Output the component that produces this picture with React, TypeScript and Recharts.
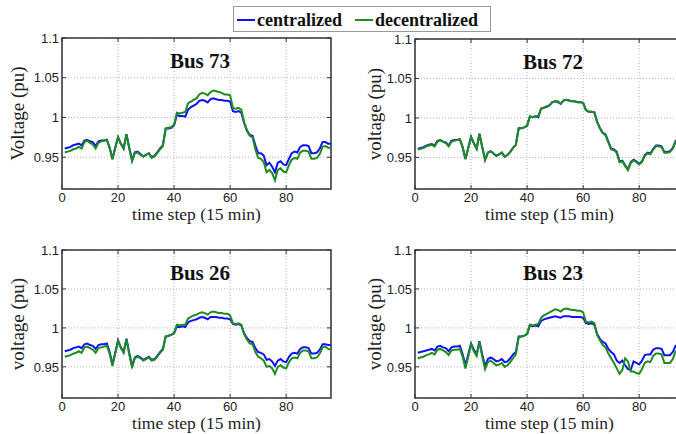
import React from 'react';
import { LineChart, Line, XAxis, YAxis, CartesianGrid, ReferenceArea } from 'recharts';

const steps = Array.from({ length: 96 }, (_, i) => i + 1);
const xTicks = [0, 20, 40, 60, 80];
const yTicks = [0.95, 1, 1.05, 1.1];
const seriesNames = ['centralized', 'decentralized'];
const xLabel = 'time step (15 min)';

const bus73Central = [
  0.961, 0.962, 0.963, 0.965, 0.966, 0.967, 0.965, 0.971, 0.972, 0.970, 0.969, 0.964, 0.970, 0.971, 0.971, 0.972,
  0.962, 0.948, 0.962, 0.975, 0.967, 0.961, 0.979, 0.962, 0.946, 0.956, 0.957, 0.954, 0.951, 0.953, 0.955, 0.950, 0.952, 0.956, 0.961, 0.965,
  0.986, 0.986, 0.987, 0.990,
  1.003, 1.002, 1.002, 1.001,
  1.010, 1.013, 1.015, 1.017,
  1.021, 1.022, 1.021, 1.019, 1.023, 1.024, 1.023, 1.022, 1.022, 1.021, 1.021, 1.020,
  1.008, 1.007, 1.008, 1.006,
  0.993, 0.984, 0.978, 0.977, 0.965, 0.955, 0.955, 0.952,
  0.940, 0.943, 0.938, 0.931, 0.943, 0.945, 0.941, 0.940,
  0.948, 0.955, 0.957, 0.956, 0.963, 0.965, 0.965, 0.964,
  0.955, 0.955, 0.956, 0.961, 0.969, 0.969, 0.967, 0.967,
];
const bus73Decentral = [
  0.956, 0.957, 0.958, 0.960, 0.961, 0.963, 0.961, 0.969, 0.971, 0.968, 0.966, 0.961, 0.968, 0.970, 0.971, 0.972,
  0.962, 0.947, 0.962, 0.975, 0.967, 0.961, 0.979, 0.961, 0.945, 0.955, 0.956, 0.953, 0.951, 0.953, 0.955, 0.949, 0.951, 0.955, 0.960, 0.964,
  0.986, 0.987, 0.988, 0.991,
  1.006, 1.005, 1.006, 1.007,
  1.018, 1.020, 1.022, 1.024,
  1.029, 1.031, 1.030, 1.028, 1.032, 1.034, 1.033, 1.032, 1.031, 1.029, 1.029, 1.028,
  1.012, 1.011, 1.012, 1.010,
  0.994, 0.983, 0.977, 0.975, 0.960, 0.949, 0.948, 0.944,
  0.931, 0.934, 0.930, 0.921, 0.934, 0.936, 0.932, 0.931,
  0.940, 0.947, 0.949, 0.948, 0.956, 0.958, 0.958, 0.957,
  0.948, 0.948, 0.949, 0.954, 0.963, 0.964, 0.962, 0.962,
];

const bus72Central = [
  0.961, 0.962, 0.963, 0.965, 0.966, 0.967, 0.965, 0.971, 0.972, 0.970, 0.969, 0.965, 0.971, 0.972, 0.972, 0.973,
  0.963, 0.948, 0.962, 0.976, 0.968, 0.961, 0.980, 0.963, 0.947, 0.956, 0.958, 0.955, 0.952, 0.954, 0.956, 0.951, 0.953, 0.957, 0.962, 0.966,
  0.987, 0.987, 0.988, 0.990,
  1.002, 1.001, 1.002, 1.001,
  1.012, 1.013, 1.014, 1.016,
  1.020, 1.021, 1.020, 1.018, 1.022, 1.023, 1.022, 1.021, 1.021, 1.020, 1.020, 1.019,
  1.010, 1.008, 1.008, 1.007,
  0.995, 0.987, 0.981, 0.979, 0.970, 0.961, 0.960, 0.957,
  0.945, 0.946, 0.940, 0.935, 0.944, 0.947, 0.945, 0.942,
  0.945, 0.953, 0.956, 0.955, 0.961, 0.965, 0.965, 0.964,
  0.957, 0.957, 0.958, 0.962, 0.971, 0.970, 0.969, 0.970,
];
const bus72Decentral = [
  0.960, 0.961, 0.962, 0.964, 0.965, 0.966, 0.964, 0.970, 0.972, 0.970, 0.968, 0.964, 0.970, 0.971, 0.972, 0.973,
  0.963, 0.948, 0.962, 0.976, 0.968, 0.961, 0.980, 0.963, 0.947, 0.956, 0.958, 0.955, 0.952, 0.954, 0.956, 0.951, 0.953, 0.957, 0.962, 0.966,
  0.987, 0.987, 0.988, 0.990,
  1.002, 1.001, 1.002, 1.002,
  1.012, 1.013, 1.015, 1.016,
  1.020, 1.021, 1.021, 1.018, 1.022, 1.023, 1.022, 1.021, 1.021, 1.020, 1.020, 1.019,
  1.010, 1.008, 1.008, 1.007,
  0.995, 0.987, 0.981, 0.978, 0.969, 0.960, 0.959, 0.956,
  0.944, 0.945, 0.939, 0.934, 0.943, 0.946, 0.944, 0.941,
  0.944, 0.952, 0.955, 0.954, 0.960, 0.964, 0.964, 0.963,
  0.956, 0.956, 0.957, 0.961, 0.970, 0.970, 0.968, 0.969,
];

const bus26Central = [
  0.970, 0.971, 0.972, 0.974, 0.975, 0.976, 0.974, 0.979, 0.980, 0.978, 0.977, 0.973, 0.978, 0.979, 0.979, 0.980,
  0.969, 0.953, 0.968, 0.984, 0.975, 0.969, 0.986, 0.968, 0.951, 0.962, 0.964, 0.962, 0.959, 0.961, 0.963, 0.959, 0.960, 0.964, 0.969, 0.973,
  0.989, 0.990, 0.991, 0.993,
  1.002, 1.001, 1.002, 1.001,
  1.007, 1.009, 1.010, 1.011,
  1.013, 1.014, 1.013, 1.011, 1.014, 1.014, 1.014, 1.013, 1.013, 1.012, 1.012, 1.011,
  1.005, 1.004, 1.005, 1.003,
  0.993, 0.987, 0.983, 0.982, 0.974, 0.969, 0.968, 0.966,
  0.959, 0.960, 0.957, 0.951, 0.958, 0.960, 0.957, 0.956,
  0.963, 0.967, 0.968, 0.967, 0.973, 0.975, 0.975, 0.974,
  0.967, 0.967, 0.968, 0.972, 0.979, 0.979, 0.978, 0.978,
];
const bus26Decentral = [
  0.963, 0.964, 0.965, 0.967, 0.968, 0.970, 0.968, 0.975, 0.976, 0.974, 0.972, 0.968, 0.974, 0.975, 0.976, 0.977,
  0.967, 0.951, 0.967, 0.983, 0.974, 0.968, 0.985, 0.966, 0.949, 0.961, 0.963, 0.961, 0.958, 0.960, 0.962, 0.958, 0.959, 0.963, 0.968, 0.972,
  0.989, 0.990, 0.991, 0.994,
  1.004, 1.003, 1.004, 1.004,
  1.012, 1.014, 1.016, 1.017,
  1.019, 1.020, 1.019, 1.017, 1.020, 1.021, 1.020, 1.019, 1.019, 1.018, 1.018, 1.016,
  1.006, 1.005, 1.006, 1.004,
  0.992, 0.985, 0.980, 0.979, 0.969, 0.963, 0.961, 0.958,
  0.950, 0.951, 0.948, 0.941, 0.950, 0.952, 0.949, 0.948,
  0.956, 0.961, 0.962, 0.961, 0.968, 0.971, 0.971, 0.970,
  0.961, 0.961, 0.962, 0.967, 0.975, 0.976, 0.973, 0.972,
];

const bus23Central = [
  0.968, 0.969, 0.970, 0.971, 0.972, 0.973, 0.971, 0.976, 0.977, 0.975, 0.974, 0.970, 0.975, 0.976, 0.976, 0.977,
  0.966, 0.952, 0.966, 0.980, 0.972, 0.966, 0.983, 0.966, 0.951, 0.960, 0.962, 0.960, 0.957, 0.958, 0.960, 0.956, 0.957, 0.961, 0.966, 0.969,
  0.989, 0.989, 0.990, 0.992,
  1.003, 1.002, 1.003, 1.002,
  1.009, 1.011, 1.012, 1.013,
  1.014, 1.015, 1.014, 1.013, 1.015, 1.015, 1.015, 1.014, 1.014, 1.014, 1.014, 1.013,
  1.006, 1.005, 1.006, 1.004,
  0.992, 0.986, 0.982, 0.980, 0.973, 0.969, 0.966, 0.958,
  0.955, 0.958, 0.952, 0.947, 0.946, 0.957, 0.955, 0.953,
  0.958, 0.965, 0.966, 0.966, 0.972, 0.974, 0.974, 0.973,
  0.965, 0.965, 0.965, 0.969, 0.977, 0.977, 0.976, 0.976,
];
const bus23Decentral = [
  0.961, 0.962, 0.963, 0.965, 0.966, 0.968, 0.966, 0.972, 0.973, 0.971, 0.969, 0.965, 0.971, 0.972, 0.972, 0.973,
  0.963, 0.948, 0.963, 0.979, 0.970, 0.964, 0.982, 0.963, 0.947, 0.956, 0.958, 0.955, 0.952, 0.953, 0.955, 0.950, 0.952, 0.956, 0.961, 0.966,
  0.988, 0.989, 0.990, 0.992,
  1.004, 1.003, 1.004, 1.005,
  1.013, 1.016, 1.018, 1.020,
  1.022, 1.024, 1.023, 1.021, 1.024, 1.025, 1.024, 1.023, 1.023, 1.022, 1.022, 1.020,
  1.008, 1.007, 1.008, 1.006,
  0.991, 0.984, 0.978, 0.975, 0.967, 0.961, 0.955, 0.948,
  0.941, 0.946, 0.961, 0.957, 0.944, 0.944, 0.942, 0.941,
  0.947, 0.955, 0.957, 0.956, 0.964, 0.967, 0.967, 0.966,
  0.955, 0.955, 0.955, 0.960, 0.970, 0.972, 0.970, 0.970,
];

const SERIF = "'Liberation Serif', 'Times New Roman', Times, serif";
const SANS = "'Liberation Sans', Arial, Helvetica, sans-serif";
const BLUE = '#1212f8';
const GREEN = '#1f8c1f';

const build = (c: number[], d: number[]) => steps.map((t, i) => ({ t, c: c[i], d: d[i] }));

type PanelProps = {
  left: number; top: number; width: number; height: number;
  mTop: number; mRight: number; yW: number; xH: number;
  title: string; ylabel: string; c: number[]; d: number[];
};

const panels: PanelProps[] = [
  { left: 0, top: 0, width: 338, height: 230, mTop: 38, mRight: 7, yW: 62, xH: 41, title: 'Bus 73', ylabel: 'Voltage (pu)', c: bus73Central, d: bus73Decentral },
  { left: 338, top: 0, width: 350, height: 230, mTop: 39, mRight: 4, yW: 77, xH: 41, title: 'Bus 72', ylabel: 'voltage (pu)', c: bus72Central, d: bus72Decentral },
  { left: 0, top: 212, width: 338, height: 222, mTop: 38, mRight: 7, yW: 62, xH: 36, title: 'Bus 26', ylabel: 'voltage (pu)', c: bus26Central, d: bus26Decentral },
  { left: 338, top: 212, width: 350, height: 222, mTop: 38, mRight: 4, yW: 77, xH: 36, title: 'Bus 23', ylabel: 'voltage (pu)', c: bus23Central, d: bus23Decentral },
];

function Panel(p: PanelProps) {
  const plotH = p.height - p.mTop - p.xH;
  const plotW = p.width - p.yW - p.mRight;
  const data = build(p.c, p.d);
  const XTick = (props: any) => {
    const { x, y, payload } = props;
    return (
      <g>
        <line x1={x} x2={x} y1={y} y2={y - 4} stroke="#333" />
        <line x1={x} x2={x} y1={y - plotH} y2={y - plotH + 4} stroke="#333" />
        <text x={x} y={y + 13} textAnchor="middle" fontFamily={SANS} fontSize={13} fill="#222">{payload.value}</text>
      </g>
    );
  };
  const YTick = (props: any) => {
    const { x, y, payload } = props;
    return (
      <g>
        <line x1={x} x2={x + 4} y1={y} y2={y} stroke="#333" />
        <line x1={x + plotW} x2={x + plotW - 4} y1={y} y2={y} stroke="#333" />
        <text x={x - 3} y={y} dy="0.36em" textAnchor="end" fontFamily={SANS} fontSize={13} fill="#222">{String(payload.value)}</text>
      </g>
    );
  };
  return (
    <div style={{ position: 'absolute', left: p.left, top: p.top, width: p.width, height: p.height }}>
      <LineChart width={p.width} height={p.height} data={data} margin={{ top: p.mTop, right: p.mRight, bottom: 0, left: 0 }}>
        <CartesianGrid stroke="#b5b5b5" strokeDasharray="1 2" />
        <XAxis dataKey="t" type="number" domain={[0, 96]} ticks={xTicks} interval={0} height={p.xH}
          tickSize={0} tickMargin={0} tickLine={false} axisLine={false} tick={<XTick />} allowDataOverflow />
        <YAxis type="number" domain={[0.91, 1.1]} ticks={yTicks} interval={0} width={p.yW}
          tickSize={0} tickMargin={0} tickLine={false} axisLine={false} tick={<YTick />} allowDataOverflow />
        <Line dataKey="c" name={seriesNames[0]} stroke={BLUE} strokeWidth={2} dot={false} isAnimationActive={false} type="linear" />
        <Line dataKey="d" name={seriesNames[1]} stroke={GREEN} strokeWidth={2} dot={false} isAnimationActive={false} type="linear" />
        <ReferenceArea x1={0} x2={96} y1={0.91} y2={1.1} fill="none" fillOpacity={0} stroke="#333" strokeWidth={1.5} />
      </LineChart>
      <svg width={p.width} height={p.height} style={{ position: 'absolute', left: 0, top: 0, pointerEvents: 'none' }}>
        <text x={p.yW + 138} y={p.mTop + 30} textAnchor="middle" fontFamily={SERIF} fontWeight="bold" fontSize={21} fill="#111">{p.title}</text>
        <text transform={`translate(${p.yW - (p.left === 0 ? 38 : 34)}, ${p.mTop + plotH / 2}) rotate(-90)`} textAnchor="middle" fontFamily={SERIF} fontSize={19} fill="#222">{p.ylabel}</text>
        <text x={p.yW + plotW / 2} y={p.mTop + plotH + 31} textAnchor="middle" fontFamily={SERIF} fontSize={17.5} fill="#222">{xLabel}</text>
      </svg>
    </div>
  );
}

export default function App() {
  return (
    <div style={{ position: 'absolute', left: 0, top: 0, width: 676, height: 434, overflow: 'hidden', background: '#fff' }}>
      {panels.map((p) => <Panel key={p.title} {...p} />)}
      <svg width={676} height={434} style={{ position: 'absolute', left: 0, top: 0, pointerEvents: 'none' }}>
        <rect x={233.5} y={6.5} width={257} height={25} fill="#fff" stroke="#999" />
        <line x1={237} x2={255} y1={20} y2={20} stroke={BLUE} strokeWidth={2} />
        <text x={257} y={26} fontFamily={SERIF} fontWeight="bold" fontSize={18} fill="#111">{seriesNames[0]}</text>
        <line x1={355} x2={373} y1={20} y2={20} stroke={GREEN} strokeWidth={2} />
        <text x={375} y={26} fontFamily={SERIF} fontWeight="bold" fontSize={18} fill="#111">{seriesNames[1]}</text>
      </svg>
    </div>
  );
}
